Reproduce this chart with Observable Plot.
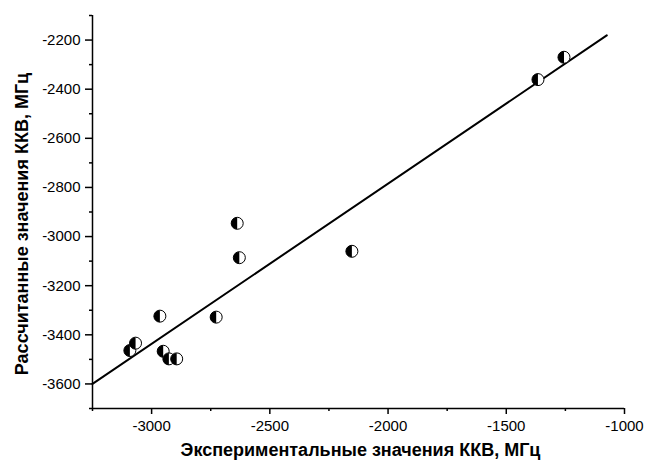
<!DOCTYPE html>
<html>
<head>
<meta charset="utf-8">
<script src="https://cdn.jsdelivr.net/npm/d3@7"></script>
<script src="https://cdn.jsdelivr.net/npm/@observablehq/plot@0.6"></script>
<style>
  html, body { margin: 0; padding: 0; background: white; }
  #chart { width: 647px; height: 466px; }
</style>
</head>
<body>
<div id="chart"></div>
<script>
// Experimental vs calculated values (MHz)
const xExp  = [-3092, -3068, -2965, -2951, -2927, -2894, -2727, -2638, -2629, -2153, -1366, -1256];
const yCalc = [-3464, -3434, -3324, -3467, -3498, -3498, -3328, -2946, -3086, -3060, -2361, -2270];

// Regression line endpoints
const fitX = [-3250, -1075];
const fitY = [-3600, -2181];

// Ticks
const xTicks = [-3000, -2500, -2000, -1500, -1000];
const xMinorTicks = [-3250, -2750, -2250, -1750, -1250];
const yTicks = [-3600, -3400, -3200, -3000, -2800, -2600, -2400, -2200];
const yMinorTicks = [-3700, -3500, -3300, -3100, -2900, -2700, -2500, -2300, -2100];
const xDomain = [-3250, -1000];
const yDomain = [-3700, -2100];

const xTitle = "Экспериментальные значения ККВ, МГц";
const yTitle = "Рассчитанные значения ККВ, МГц";

const points = xExp.map((x, i) => ({x, y: yCalc[i]}));
const fit = fitX.map((x, i) => ({x, y: fitY[i]}));

// left-half disc symbol
const halfLeft = {
  draw(context, size) {
    const r = Math.sqrt(size / Math.PI);
    context.moveTo(0, -r);
    context.arc(0, 0, r, -Math.PI / 2, Math.PI / 2, true);
    context.closePath();
  }
};

const fmt = d => String(d);

const chart = Plot.plot({
  width: 647,
  height: 466,
  marginLeft: 92,
  marginRight: 23,
  marginTop: 15,
  marginBottom: 58,
  style: {fontFamily: "'Liberation Sans', Arial, sans-serif", fontSize: "15px", background: "white", color: "black"},
  x: {domain: xDomain},
  y: {domain: yDomain},
  marks: [
    Plot.axisX(xMinorTicks, {tickSize: 3, tickFormat: () => "", label: null, strokeWidth: 1.5}),
    Plot.axisX(xTicks, {tickSize: 6, tickPadding: 6, tickFormat: fmt, label: null, strokeWidth: 1.5, fontSize: 15}),
    Plot.axisY(yMinorTicks, {tickSize: 3, tickFormat: () => "", label: null, strokeWidth: 1.5}),
    Plot.axisY(yTicks, {tickSize: 7, tickPadding: 5, tickFormat: fmt, label: null, strokeWidth: 1.5, fontSize: 15}),
    Plot.ruleX([xDomain[0]], {strokeWidth: 1.5}),
    Plot.ruleY([yDomain[0]], {strokeWidth: 1.5}),
    Plot.line(fit, {x: "x", y: "y", stroke: "black", strokeWidth: 2}),
    Plot.dot(points, {x: "x", y: "y", r: 6, fill: "white", stroke: "black", strokeWidth: 1}),
    Plot.dot(points, {x: "x", y: "y", r: 6, symbol: halfLeft, fill: "black", stroke: "none"}),
    Plot.text([xTitle], {frameAnchor: "bottom", dx: 2, dy: 47, fontWeight: "bold", fontSize: 18}),
    Plot.text([yTitle], {frameAnchor: "left", textAnchor: "middle", dx: -70, dy: 12, rotate: -90, fontWeight: "bold", fontSize: 18})
  ]
});
document.getElementById("chart").appendChild(chart);
</script>
</body>
</html>
